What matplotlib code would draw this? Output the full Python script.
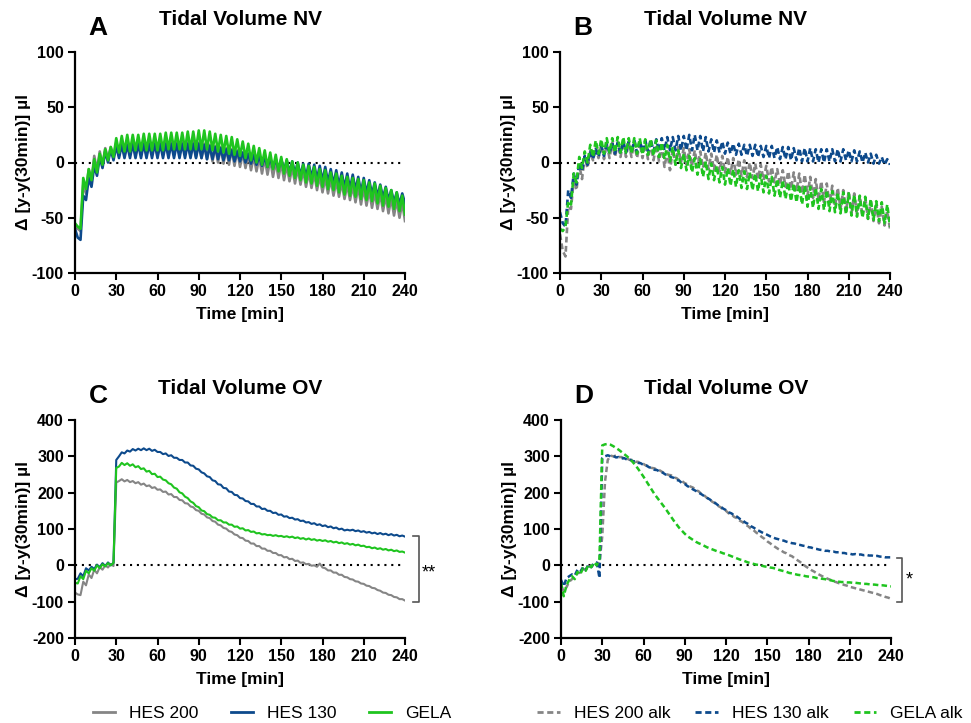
import numpy as np
import matplotlib
matplotlib.use('Agg')
import matplotlib.pyplot as plt
from matplotlib.lines import Line2D

plt.rcParams['font.family'] = ['Liberation Sans', 'DejaVu Sans']
plt.rcParams['axes.unicode_minus'] = False

# time axis, one sample every 2 min
time_min = list(range(0, 241, 2))

# ---- Tidal volume NV (A: solid, B: alk, dashed)
nv_hes200 = [-57, -60, -62, -20, -28, -6, -17, 6, -7, 10, -3, 13, 3, 14, 5,
             18, 6, 19, 7, 19, 7, 20, 7, 20, 7, 20, 7, 20, 7, 20, 7, 20, 7,
             20, 7, 20, 7, 20, 7, 20, 7, 20, 6, 19, 5, 18, 4, 17, 3, 16, 1,
             15, 0, 14, -1, 13, -2, 12, -3, 11, -4, 9, -5, 8, -7, 6, -8, 5, -10,
             4, -11, 3, -13, 1, -14, 0, -16, -2, -17, -4, -19, -5, -20, -7, -22,
             -9, -23, -10, -25, -12, -27, -14, -28, -15, -30, -17, -31, -18, -33,
             -20, -34, -21, -36, -22, -38, -23, -39, -25, -41, -27, -42, -28, -44,
             -30, -46, -32, -48, -34, -50, -36, -53]
nv_hes130 = [-60, -68, -70, -30, -34, -14, -22, -3, -12, 5, -5, 10, 0, 12, 2,
             15, 4, 16, 4, 16, 4, 17, 4, 17, 4, 17, 4, 17, 4, 17, 4, 17, 4, 17, 4,
             17, 4, 17, 4, 17, 4, 17, 4, 17, 4, 17, 4, 16, 3, 15, 3,
             14, 3, 13, 2, 12, 2, 11, 1, 10, 1, 9, 0, 8, -1, 7, -2, 6, -3, 5, -4,
             4, -5, 3, -6, 3, -7, 2, -9, 1, -10, 0, -12, -1, -13, -1, -14, -2, -15,
             -3, -17, -4, -18, -6, -20, -7, -21, -9, -23, -10, -24, -11, -25,
             -13, -27, -14, -28, -16, -29, -18, -31, -20, -32, -22, -34, -25, -36,
             -27, -38, -28, -37]
nv_gela = [-55, -58, -60, -14, -24, -6, -16, 3, -9, 8, -2, 12, 2, 14, 5,
           22, 9, 24, 10, 25, 10, 25, 11, 25, 11, 26, 11, 26, 11, 26, 11, 26, 11,
           27, 12, 27, 12, 27, 12, 27, 12, 28, 12, 28, 12, 29, 12, 29, 12, 28, 11,
           26, 10, 25, 9, 24, 8, 23, 7, 21, 6, 19, 4, 17, 2, 15, 0, 13, -2, 11, -4,
           9, -6, 7, -8, 5, -10, 3, -12, 1, -14, 0, -16, -2, -18, -3, -19, -4, -21,
           -6, -22, -7, -24, -9, -25, -10, -27, -12, -29, -13, -30, -14, -31,
           -15, -33, -16, -34, -18, -35, -19, -37, -21, -39, -23, -40, -25, -42,
           -27, -44, -30, -47]
nv_hes200_alk = [-65, -80, -85, -40, -42, -15, -25, -2, -15, 5, -5, 10, 2, 14, 4,
                 16, 3, 17, 4, 18, 5, 18, 5, 19, 5, 18, 5, 18, 4, 18, 4, 17, 3, 17, 2,
                 16, 1, 15, -4, 10, -7, 12, -2, 14, 0, 13, -2, 12, -3, 11, -4,
                 10, -5, 9, -6, 8, -7, 7, -8, 6, -9, 5, -10, 4, -11, 3, -12, 2, -13,
                 0, -14, -1, -15, -2, -16, -3, -17, -4, -18, -6, -20, -7, -22, -8, -24,
                 -9, -26, -10, -28, -11, -30, -13, -32, -15, -34, -17, -36, -19, -38,
                 -21, -40, -23, -42, -25, -44, -26, -46, -28, -47, -30, -49, -32, -51,
                 -35, -53, -38, -55, -40, -57, -44, -60]
nv_hes130_alk = [-45, -55, -58, -25, -32, -10, -20, 0, -8, 6, -2, 10, 3, 12, 5,
                 15, 6, 17, 8, 18, 8, 18, 8, 19, 9, 19, 9, 20, 9, 20, 10, 20, 10, 21, 10,
                 21, 10, 22, 11, 23, 11, 23, 11, 24, 11, 24, 11, 25, 11, 25, 11,
                 24, 10, 23, 10, 21, 9, 20, 9, 19, 8, 18, 8, 17, 7, 17, 7, 16, 6, 16, 6,
                 16, 5, 15, 5, 15, 4, 15, 4, 14, 3, 14, 3, 14, 2, 13, 2, 13, 1, 13, 1,
                 13, 1, 12, 0, 12, 0, 12, 1, 12, 1, 12, 1, 12, 2, 11, 1, 11, 1, 10, 0,
                 9, 0, 8, -1, 7, -1, 5, -2, 3, -2]
nv_gela_alk = [-60, -62, -58, -35, -38, -10, -18, 5, -5, 10, 0, 16, 5, 20, 8,
               21, 8, 22, 9, 22, 9, 23, 9, 23, 9, 22, 8, 22, 8, 22, 7, 21, 7, 21, 6,
               20, 5, 18, 3, 16, 1, 14, -2, 11, -5, 8, -7, 6, -9, 4, -11,
               3, -13, 1, -15, -1, -16, -3, -18, -4, -20, -5, -21, -6, -22, -7, -23,
               -8, -24, -9, -25, -10, -26, -11, -27, -12, -28, -13, -30, -15, -32,
               -16, -33, -18, -35, -19, -36, -20, -38, -21, -40, -22, -41, -23, -42,
               -24, -43, -25, -44, -26, -45, -27, -46, -27, -47, -28, -48, -29, -49,
               -30, -50, -31, -51, -33, -52, -35, -53, -36, -55, -38, -58]

# ---- Tidal volume OV (C: solid, D: alk, dashed)
ov_hes200 = [-75, -80, -82, -45, -55, -25, -35, -12, -22, -5, -12, 0, -6, 4, -2,
             228, 232, 237, 231, 235, 229, 232, 226, 229, 222, 225, 218, 220, 213,
             215, 208, 209, 202, 203, 195, 196, 188, 188, 180, 179, 171, 170, 162,
             160, 152, 150, 142, 140, 132, 130, 122,
             120, 112, 110, 103, 101, 94, 92, 85, 83, 76, 75, 68, 67, 60, 60, 53,
             53, 46, 46, 40, 40, 34, 34, 28, 28, 22, 23, 17, 18, 12, 13, 7, 8, 3,
             4, -1, 0, -4, 5, -6, -8, -14, -14, -20, -20, -26, -26, -32, -33, -38,
             -39, -44, -45, -50, -51, -56, -57, -62, -63, -68, -70, -75, -76, -81,
             -82, -87, -88, -93, -93, -97]
ov_hes130 = [-38, -37, -22, -30, -8, -14, -4, -10, 2, -5, 6, -2, 8, 0, 7,
             290, 300, 311, 308, 316, 313, 320, 316, 321, 317, 322, 317, 321, 315,
             318, 312, 312, 306, 308, 301, 303, 296, 296, 290, 290, 283, 283, 275,
             274, 266, 264, 256, 253, 245, 243, 234,
             232, 223, 222, 213, 212, 203, 202, 194, 193, 185, 184, 177, 176, 169,
             169, 162, 162, 155, 156, 150, 150, 144, 145, 139, 140, 134, 135, 130,
             131, 126, 127, 122, 123, 118, 119, 114, 116, 111, 113, 108, 110, 105,
             107, 102, 104, 99, 101, 96, 98, 96, 98, 94, 96, 92, 94, 90, 92, 88,
             90, 86, 89, 85, 87, 83, 86, 82, 84, 80, 82, 79]
ov_gela = [-48, -50, -30, -38, -15, -22, -8, -15, 0, -8, 3, -3, 6, 0, 7,
           268, 272, 282, 276, 281, 274, 278, 270, 273, 265, 267, 258, 260, 251,
           252, 243, 244, 236, 234, 226, 223, 214, 211, 201, 198, 189, 185, 176,
           172, 163, 160, 151, 149, 141, 139, 132,
           131, 124, 124, 118, 118, 112, 112, 106, 107, 101, 102, 96, 97, 92,
           93, 88, 89, 85, 86, 83, 84, 81, 83, 80, 81, 78, 80, 77, 79, 75,
           77, 73, 75, 71, 74, 70, 72, 68, 70, 67, 69, 65, 67, 63, 65, 61,
           63, 59, 61, 57, 59, 55, 57, 53, 54, 50, 51, 47, 49, 45, 47, 43,
           45, 41, 43, 39, 41, 37, 38, 35]
ov_hes200_alk = [-57, -71, -60, -45, -38, -30, -22, -20, -10, -12, -2, -5, 5, 0, 8,
                 80, 230, 290, 302, 300, 302, 298, 298, 294, 294, 290, 290, 285, 285,
                 280, 279, 274, 273, 268, 267, 262, 261, 256, 254, 249, 248, 242, 240,
                 234, 232, 226, 223, 217, 214, 207, 204,
                 197, 193, 186, 182, 175, 171, 164, 160, 153, 150, 143, 140, 133, 130,
                 123, 119, 112, 108, 101, 97, 90, 85, 78, 73, 66, 61, 55, 50, 45, 41,
                 36, 33, 28, 25, 19, 14, 9, 3, -3, -8, -13, -17, -22, -26, -30, -33,
                 -37, -40, -44, -46, -49, -51, -54, -56, -59, -61, -63, -65, -67, -69,
                 -71, -73, -75, -77, -79, -82, -84, -87, -89, -92]
ov_hes130_alk = [-40, -58, -35, -30, -25, -28, -12, -18, -5, -12, 2, -5, 6, 8, -35,
                 295, 300, 303, 300, 301, 297, 298, 294, 295, 291, 292, 287, 286, 282,
                 281, 276, 275, 270, 268, 263, 262, 257, 255, 250, 249, 243, 241, 235,
                 233, 226, 224, 218, 214, 209, 205, 200,
                 196, 191, 186, 182, 176, 172, 166, 162, 156, 152, 146, 143, 137, 134,
                 128, 124, 118, 114, 108, 104, 99, 95, 91, 87, 84, 80, 77, 74, 72, 69,
                 68, 65, 63, 61, 60, 57, 56, 54, 53, 50, 49, 46, 45, 43, 42, 40, 40,
                 38, 38, 36, 36, 34, 34, 32, 32, 30, 31, 29, 30, 28, 29, 27, 27, 25,
                 26, 24, 24, 22, 22, 22]
ov_gela_alk = [-48, -85, -55, -40, -30, -38, -18, -25, -8, -15, 2, -5, 8, 0, 18,
               330, 333, 334, 332, 328, 323, 318, 312, 306, 300, 293, 285, 276, 266,
               255, 244, 232, 220, 208, 196, 186, 176, 166, 156, 145, 134, 123, 113,
               103, 95, 87, 80, 75, 70, 65, 61,
               58, 54, 50, 47, 44, 41, 38, 36, 33, 31, 28, 25, 22, 19, 16, 14, 11, 8,
               6, 4, 2, 1, -1, -3, -4, -6, -7, -9, -12, -14, -16, -18, -21, -22, -24,
               -26, -27, -28, -30, -31, -32, -33, -35, -36, -37, -38, -40, -41, -43,
               -44, -45, -46, -46, -47, -47, -48, -48, -49, -50, -51, -51, -52, -53,
               -53, -54, -55, -55, -56, -57, -58]

names = ['HES 200', 'HES 130', 'GELA']
colors = ['#858585', '#0d4a8c', '#1fc41f']

fig = plt.figure(figsize=(9.71, 7.23), dpi=100)
W, H = 971.0, 723.0


def make_ax(x0, x1, ytop, ybot):
    return fig.add_axes([x0 / W, 1 - ybot / H, (x1 - x0) / W, (ybot - ytop) / H])


axA = make_ax(75, 405, 52, 273)
axB = make_ax(560, 890, 52, 273)
axC = make_ax(75, 405, 420, 638)
axD = make_ax(561, 891, 420, 638)

panels = [
    (axA, 'A', 'Tidal Volume NV', [nv_hes200, nv_hes130, nv_gela], '-', 1.9, (-100, 100), 50),
    (axB, 'B', 'Tidal Volume NV', [nv_hes200_alk, nv_hes130_alk, nv_gela_alk], '--', 1.9, (-100, 100), 50),
    (axC, 'C', 'Tidal Volume OV', [ov_hes200, ov_hes130, ov_gela], '-', 1.5, (-200, 400), 100),
    (axD, 'D', 'Tidal Volume OV', [ov_hes200_alk, ov_hes130_alk, ov_gela_alk], '--', 1.8, (-200, 400), 100),
]

for ax, letter, title, series, ls, lw, ylim, ystep in panels:
    ax.plot([0, 240], [0, 0], color='black', lw=1.5, linestyle=(0, (1, 2.3)), zorder=1)
    for vals, c in zip(series, colors):
        if ls == '--':
            ax.plot(time_min, vals, color=c, lw=lw, linestyle=(0, (2.2, 1.3)), zorder=2)
        else:
            ax.plot(time_min, vals, color=c, lw=lw, zorder=2)
    ax.set_xlim(0, 240)
    ax.set_ylim(*ylim)
    ax.set_xticks(range(0, 241, 30))
    ax.set_yticks(range(ylim[0], ylim[1] + 1, ystep))
    for s in ['top', 'right']:
        ax.spines[s].set_visible(False)
    for s in ['left', 'bottom']:
        ax.spines[s].set_linewidth(1.6)
    ax.tick_params(width=1.5, length=5, labelsize=11.5, pad=3)
    for lab in ax.get_xticklabels() + ax.get_yticklabels():
        lab.set_fontweight('bold')
    ax.set_xlabel('Time [min]', fontsize=12.5, fontweight='bold')
    ax.set_ylabel('\u0394 [y-y(30min)] \u00b5l', fontsize=12.5, fontweight='bold')
    ax.xaxis.set_label_coords(0.5, -0.155)
    ax.yaxis.set_label_coords(-0.133, 0.5)
    ax.text(0.5, 1.145, title, transform=ax.transAxes, ha='center', va='center',
            fontsize=15, fontweight='bold')
    ax.text(0.07, 1.11, letter, transform=ax.transAxes, ha='center', va='center',
            fontsize=19, fontweight='bold')

# significance brackets
axC.plot([246, 250, 250, 246], [80, 80, -100, -100], color='#555555', lw=1.2, clip_on=False)
axC.text(252, -20, '**', fontsize=13, va='center', ha='left', clip_on=False)
axD.plot([244, 248, 248, 244], [20, 20, -100, -100], color='#555555', lw=1.2, clip_on=False)
axD.text(251, -40, '*', fontsize=13, va='center', ha='left', clip_on=False)

# legends
solid = [Line2D([], [], color=c, lw=2) for c in colors]
dashed = [Line2D([], [], color=c, lw=2, linestyle=(0, (2.2, 1.3))) for c in colors]
leg_kw = dict(ncol=3, frameon=False, fontsize=12.5, handlelength=1.3,
              handletextpad=0.8, loc='center')
fig.legend(solid, names, bbox_to_anchor=(272 / W, 1 - 713 / H), columnspacing=1.85, **leg_kw)
fig.legend(dashed, [n + ' alk' for n in names], bbox_to_anchor=(750 / W, 1 - 713 / H),
           columnspacing=1.45, **leg_kw)

fig.savefig('out.png', dpi=100)
